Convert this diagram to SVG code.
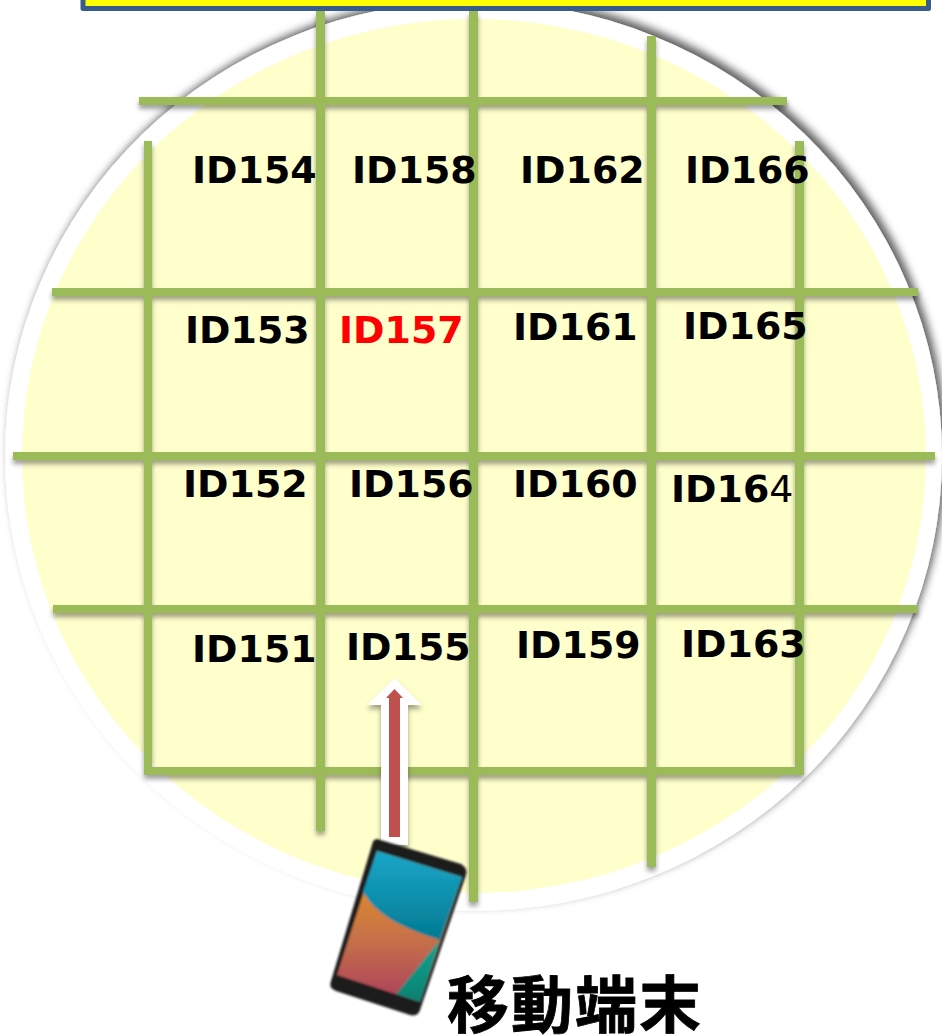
<svg xmlns="http://www.w3.org/2000/svg" width="942" height="1035" viewBox="0 0 942 1035">
<style>
.g{fill:#9bbb59}
text{font-family:"DejaVu Sans","Noto Sans CJK JP",sans-serif;font-weight:700;font-size:37.9px;fill:#000}
</style>
<defs>
<filter id="s" x="-20%" y="-20%" width="140%" height="140%"><feDropShadow dx="0" dy="4" stdDeviation="2.5" flood-color="#000" flood-opacity=".38"/></filter>
<filter id="c" x="-5%" y="-5%" width="110%" height="110%"><feDropShadow dx="4" dy="-5" stdDeviation="4" flood-color="#000" flood-opacity=".62"/></filter>
<filter id="b" x="-10%" y="-10%" width="120%" height="120%"><feGaussianBlur stdDeviation="1"/></filter>
<linearGradient id="t" x1="0" y1="0" x2="0" y2="1"><stop offset="0" stop-color="#19a7c9"/><stop offset="1" stop-color="#027a92"/></linearGradient>
<linearGradient id="o" x1="0" y1="0" x2="0" y2="1"><stop offset="0" stop-color="#ec9a1c"/><stop offset=".6" stop-color="#c5704a"/><stop offset="1" stop-color="#ab3f5d"/></linearGradient>
<linearGradient id="e" x1="0" y1="0" x2="0" y2="1"><stop offset="0" stop-color="#0aa594"/><stop offset="1" stop-color="#07806f"/></linearGradient>
</defs>
<g id="area">
<ellipse cx="473.500" cy="456" rx="468.500" ry="455" fill="#fff" filter="url(#c)"/>
<ellipse cx="474" cy="456" rx="452" ry="437" fill="#ffffcc"/>
</g>
<g id="banner"><rect x="83" y="-8" width="845.500" height="16.500" fill="#ffff00" stroke="#385d8a" stroke-width="5" stroke-linejoin="round"/></g>
<g id="connectors" filter="url(#s)">
<rect class="g" x="316" y="11" width="9" height="820"/>
<rect class="g" x="469" y="11" width="9" height="891"/>
<rect class="g" x="647" y="36" width="9" height="831"/>
<rect class="g" x="144" y="141" width="8" height="633"/>
<rect class="g" x="795" y="141" width="9" height="633"/>
<rect class="g" x="139" y="97" width="648" height="8"/>
<rect class="g" x="52" y="288" width="866" height="8"/>
<rect class="g" x="13" y="452" width="922" height="8"/>
<rect class="g" x="53" y="605" width="865" height="8"/>
<rect class="g" x="144" y="767" width="660" height="8"/>
</g>
<g id="arrow">
<path d="M381 845V705H367L394.500 678 422 705H408V845Z" fill="#fff" filter="url(#s)"/>
<path d="M389 837V698H386L394.500 689 403 698H400V837Z" fill="#c0504d"/>
</g>
<g id="phone" filter="url(#b)">
<path d="M377 839 461 864Q468 868 466 875L420 1010Q418 1017 410 1015L336 991Q328 988 331 981L372 845Q373 839 377 839Z" fill="#1c1c1c"/>
<path d="M377 851 462 877 420 1002 337 975Z" fill="url(#o)"/>
<path d="M377 851 462 877 440 940C410 930 380 920 363 892Z" fill="url(#t)"/>
<path d="M440 940 420 1002 396 994Z" fill="url(#e)"/>
</g>
<g id="labels">
<text x="192" y="183">ID154</text><text x="352" y="183">ID158</text><text x="520" y="183">ID162</text><text x="685" y="183">ID166</text>
<text x="185" y="343">ID153</text><text x="339" y="343" style="fill:#ff0000">ID157</text><text x="513" y="340">ID161</text><text x="683" y="339">ID165</text>
<text x="183" y="497">ID152</text><text x="349" y="497">ID156</text><text x="513" y="497">ID160</text><text x="671" y="502">ID16<tspan font-weight="400">4</tspan></text>
<text x="192" y="662">ID151</text><text x="346" y="660">ID155</text><text x="516" y="658">ID159</text><text x="681" y="657">ID163</text>
<text x="447" y="1028" style="font-size:62px;letter-spacing:2px;stroke:#000;stroke-width:.8px">移動端末</text>
</g>
</svg>
